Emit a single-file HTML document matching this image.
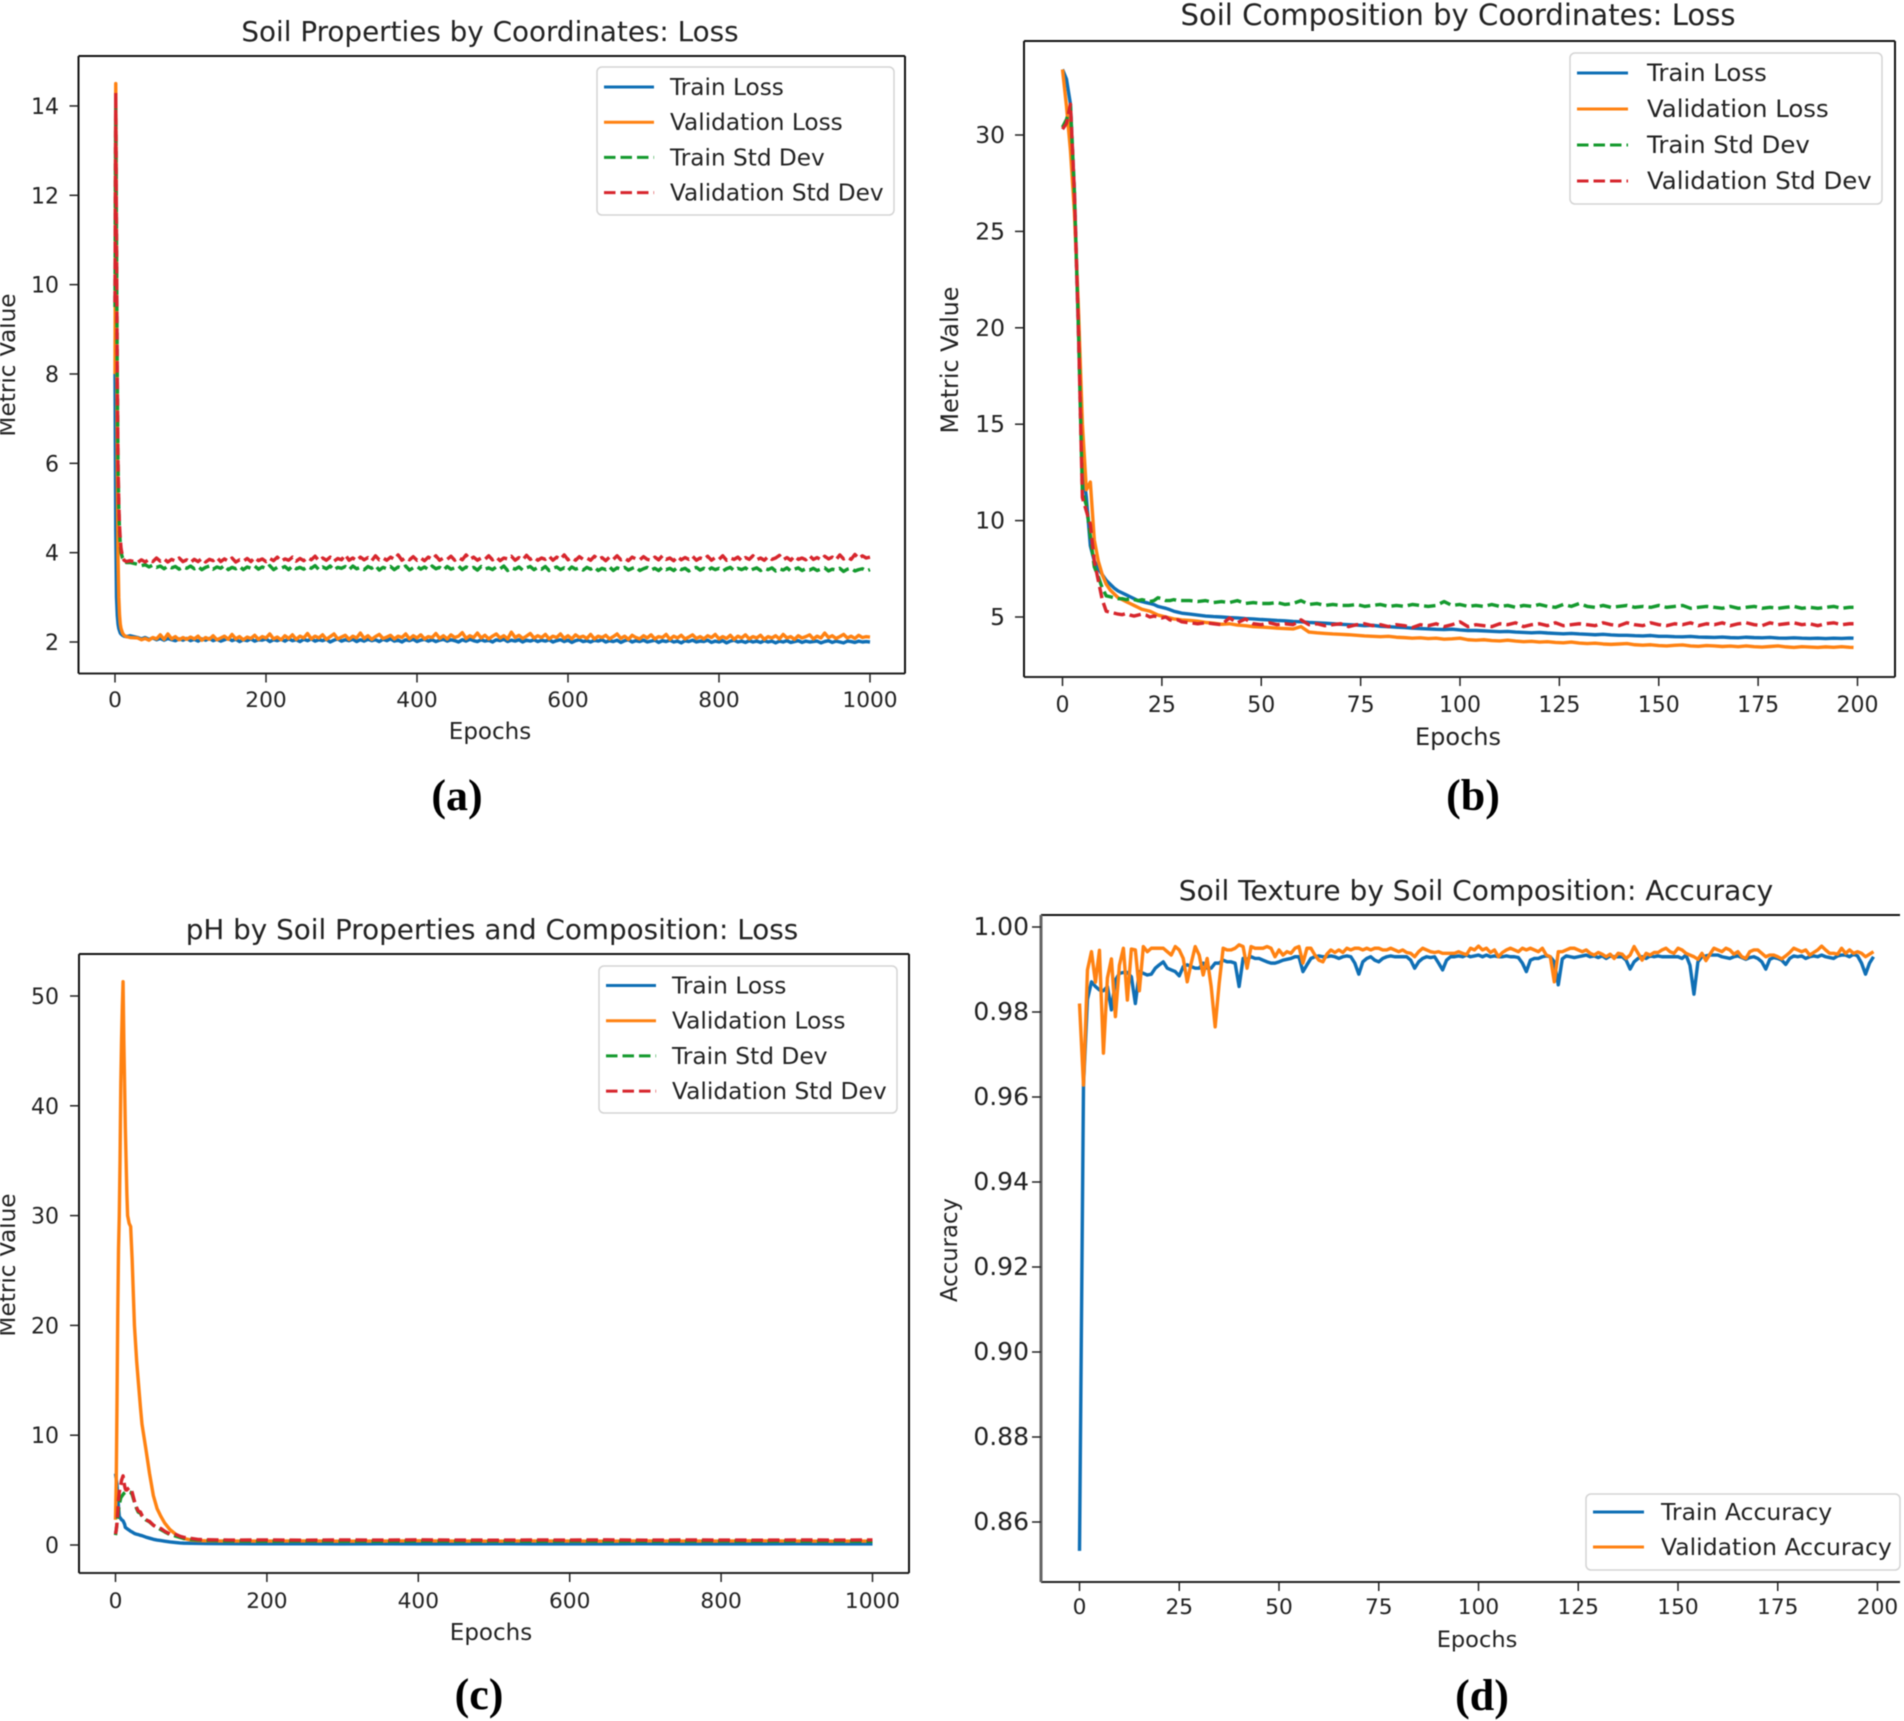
<!DOCTYPE html>
<html lang="en">
<head>
<meta charset="utf-8">
<title>Soil model training curves</title>
<style>
html,body{margin:0;padding:0;background:#fff;}
#root{display:block;width:1904px;height:1721px;filter:blur(0.45px);}
text{font-family:"DejaVu Sans","Liberation Sans",sans-serif;fill:#222;}
.cap{font-family:"Liberation Serif",serif;font-weight:bold;font-size:44px;fill:#000;}
</style>
</head>
<body>
<svg id="root" xmlns="http://www.w3.org/2000/svg" width="1904" height="1721" viewBox="0 0 1904 1721">
  <rect x="0" y="0" width="1904" height="1721" fill="#fff"/>
  <g id="panel-a">
    <text style="font-size:27.8px" x="490" y="41" text-anchor="middle">Soil Properties by Coordinates: Loss</text>
    <text style="font-size:23px" x="490" y="739" text-anchor="middle">Epochs</text>
    <text style="font-size:23.2px" transform="translate(15,365) rotate(-90)" text-anchor="middle">Metric Value</text>
    <text class="cap" x="457" y="810" text-anchor="middle">(a)</text>
  </g>
  <g id="panel-b">
    <text style="font-size:29.1px" x="1458" y="25" text-anchor="middle">Soil Composition by Coordinates: Loss</text>
    <text style="font-size:24px" x="1458" y="745" text-anchor="middle">Epochs</text>
    <text style="font-size:23.8px" transform="translate(958,360) rotate(-90)" text-anchor="middle">Metric Value</text>
    <text class="cap" x="1473" y="810" text-anchor="middle">(b)</text>
  </g>
  <g id="panel-c">
    <text style="font-size:27.8px" x="492" y="939" text-anchor="middle">pH by Soil Properties and Composition: Loss</text>
    <text style="font-size:23px" x="491" y="1640" text-anchor="middle">Epochs</text>
    <text style="font-size:23.2px" transform="translate(15,1265) rotate(-90)" text-anchor="middle">Metric Value</text>
    <text class="cap" x="479" y="1709" text-anchor="middle">(c)</text>
  </g>
  <g id="panel-d">
    <text style="font-size:28px" x="1476" y="900" text-anchor="middle">Soil Texture by Soil Composition: Accuracy</text>
    <text style="font-size:22.5px" x="1477" y="1647" text-anchor="middle">Epochs</text>
    <text style="font-size:22.8px" transform="translate(957,1250) rotate(-90)" text-anchor="middle">Accuracy</text>
    <text class="cap" x="1482" y="1710" text-anchor="middle">(d)</text>
  </g>
</svg>
<script>
/* ---------- Panel (a) ---------- */
const aEpochs = [0,1,2,3,4,5,6,7,8,10,12,15,20,
30,35,40,45,50,55,60,65,70,75,80,85,90,95,100,
105,110,115,120,125,130,135,140,145,150,155,160,165,170,175,
180,185,190,195,200,205,210,215,220,225,230,235,240,245,250,
255,260,265,270,275,280,285,290,295,300,305,310,315,320,325,
330,335,340,345,350,355,360,365,370,375,380,385,390,395,400,
405,410,415,420,425,430,435,440,445,450,455,460,465,470,475,
480,485,490,495,500,505,510,515,520,525,530,535,540,545,550,
555,560,565,570,575,580,585,590,595,600,605,610,615,620,625,
630,635,640,645,650,655,660,665,670,675,680,685,690,695,700,
705,710,715,720,725,730,735,740,745,750,755,760,765,770,775,
780,785,790,795,800,805,810,815,820,825,830,835,840,845,850,
855,860,865,870,875,880,885,890,895,900,905,910,915,920,925,
930,935,940,945,950,955,960,965,970,975,980,985,990,995,1000];
const aTrainLoss = [8,4.5,3,2.6,2.4,2.3,2.25,2.2,2.18,2.15,2.13,2.12,2.14,
2.1,2.07,2.1,2.06,2.09,2.05,2.08,2.04,2.08,2.05,2.03,2.07,2.04,2.08,2.03,
2.06,2.02,2.07,2.04,2.08,2.03,2.06,2.02,2.05,2.08,2.03,2.06,2.01,2.05,2.03,
2.07,2.02,2.05,2.04,2.07,2.01,2.05,2.03,2.06,2.02,2.07,2.03,2.05,2.01,2.06,
2.03,2.07,2.02,2.05,2.03,2.06,2,2.04,2.07,2.02,2.05,2.03,2.06,2.01,2.05,
2.02,2.06,2.03,2.05,2.01,2.06,2.03,2.07,2.02,2.04,2,2.05,2.03,2.06,2.01,
2.04,2.06,2.02,2.05,2.01,2.04,2.06,2.02,2.05,2.03,2,2.05,2.02,2.06,2.03,
2.01,2.05,2.02,2.04,2,2.05,2.03,2.06,2.01,2.04,2.02,2.05,2,2.04,2.02,
2.05,2.01,2.04,2.02,2.05,2,2.03,2.05,2.01,2.04,1.99,2.03,2.05,2.01,2.03,
2,2.04,2.02,2.05,2,2.03,2.01,2.04,1.99,2.03,2.05,2,2.03,2.01,2.04,
2,2.02,2.04,1.99,2.03,2.01,2.04,2,2.02,1.98,2.03,2.01,2.04,2,2.02,
2.01,2.04,1.99,2.02,2,2.03,1.98,2.02,2.04,2,2.02,1.99,2.03,2,2.02,
1.99,2.03,2,2.02,1.98,2.02,2,2.03,1.99,2.01,2.03,1.99,2.02,2,2.01,
2.02,1.98,2.01,2.03,1.99,2.02,2,1.98,2.02,2.01,1.99,2.02,2,2.01,2];
const aValLoss = [8,14.5,10,6,3.9,3,2.6,2.4,2.3,2.2,2.15,2.12,2.1,
2.09,2.05,2.08,2.04,2.1,2.07,2.16,2.06,2.18,2.07,2.12,2.05,2.1,2.06,2.11,
2.07,2.13,2.04,2.1,2.06,2.14,2.05,2.09,2.13,2.06,2.17,2.07,2.12,2.05,2.11,
2.08,2.15,2.06,2.12,2.09,2.18,2.07,2.11,2.05,2.14,2.08,2.16,2.06,2.13,2.09,
2.19,2.07,2.13,2.09,2.16,2.06,2.12,2.18,2.07,2.11,2.15,2.06,2.13,2.09,2.2,
2.08,2.14,2.06,2.12,2.17,2.08,2.11,2.15,2.07,2.13,2.1,2.18,2.07,2.14,2.09,
2.16,2.07,2.12,2.1,2.19,2.08,2.14,2.07,2.16,2.1,2.13,2.21,2.08,2.14,2.1,
2.2,2.09,2.15,2.07,2.13,2.18,2.09,2.14,2.07,2.22,2.1,2.15,2.08,2.13,2.19,
2.09,2.14,2.1,2.17,2.07,2.13,2.1,2.18,2.08,2.14,2.07,2.16,2.1,2.13,2.08,
2.17,2.07,2.13,2.1,2.15,2.07,2.12,2.18,2.08,2.13,2.06,2.15,2.1,2.07,2.14,
2.09,2.16,2.07,2.12,2.1,2.17,2.06,2.13,2.09,2.15,2.07,2.11,2.16,2.08,2.12,
2.07,2.14,2.1,2.17,2.07,2.12,2.08,2.15,2.06,2.13,2.09,2.16,2.07,2.12,2.09,
2.15,2.06,2.12,2.09,2.14,2.07,2.17,2.09,2.12,2.06,2.14,2.09,2.12,2.16,2.07,
2.13,2.09,2.2,2.1,2.14,2.08,2.12,2.17,2.09,2.13,2.08,2.15,2.1,2.12,2.11];
const aTrainStd = [9.5,14.2,11,8,6,5,4.5,4.2,4,3.88,3.82,3.78,3.78,
3.74,3.71,3.73,3.68,3.72,3.67,3.7,3.64,3.7,3.66,3.69,3.63,3.68,3.65,3.7,
3.64,3.69,3.62,3.67,3.7,3.63,3.68,3.65,3.71,3.62,3.67,3.64,3.69,3.62,3.68,
3.65,3.7,3.63,3.68,3.64,3.71,3.62,3.67,3.65,3.69,3.62,3.7,3.64,3.67,3.63,
3.69,3.65,3.71,3.62,3.68,3.64,3.7,3.61,3.67,3.65,3.69,3.62,3.7,3.64,3.67,
3.62,3.69,3.65,3.71,3.61,3.67,3.64,3.69,3.62,3.68,3.65,3.7,3.61,3.66,3.69,
3.63,3.68,3.62,3.7,3.64,3.67,3.61,3.69,3.63,3.66,3.7,3.62,3.68,3.64,3.67,
3.61,3.69,3.63,3.66,3.62,3.68,3.64,3.7,3.6,3.66,3.63,3.68,3.61,3.66,3.69,
3.62,3.67,3.63,3.69,3.6,3.65,3.68,3.62,3.66,3.6,3.68,3.63,3.66,3.61,3.67,
3.63,3.68,3.6,3.65,3.62,3.68,3.6,3.66,3.63,3.67,3.61,3.65,3.68,3.6,3.64,
3.67,3.61,3.65,3.6,3.67,3.62,3.65,3.6,3.67,3.62,3.65,3.59,3.64,3.67,3.61,
3.65,3.6,3.66,3.62,3.65,3.59,3.64,3.67,3.6,3.65,3.62,3.66,3.59,3.63,3.66,
3.6,3.65,3.62,3.66,3.59,3.64,3.61,3.66,3.59,3.63,3.66,3.6,3.64,3.61,3.65,
3.6,3.63,3.66,3.59,3.63,3.61,3.65,3.58,3.63,3.65,3.59,3.62,3.64,3.59,3.62];
const aValStd = [9.6,14.3,11,8,6,5.1,4.6,4.3,4.1,3.9,3.83,3.8,3.82,
3.78,3.84,3.79,3.85,3.8,3.88,3.81,3.86,3.79,3.85,3.81,3.88,3.8,3.84,3.78,
3.85,3.8,3.87,3.79,3.85,3.82,3.89,3.8,3.86,3.81,3.88,3.79,3.84,3.81,3.87,
3.8,3.89,3.82,3.86,3.8,3.87,3.82,3.9,3.81,3.86,3.83,3.9,3.81,3.87,3.82,
3.89,3.84,3.92,3.82,3.88,3.83,3.9,3.81,3.87,3.84,3.95,3.83,3.88,3.82,3.9,
3.84,3.89,3.82,3.93,3.84,3.88,3.83,3.9,3.85,3.95,3.83,3.89,3.84,3.91,3.83,
3.88,3.82,3.9,3.85,3.93,3.83,3.88,3.85,3.92,3.83,3.89,3.84,3.95,3.85,3.9,
3.83,3.88,3.85,3.93,3.84,3.9,3.82,3.88,3.86,3.92,3.83,3.89,3.84,3.94,3.85,
3.9,3.83,3.88,3.85,3.92,3.83,3.9,3.85,3.95,3.84,3.89,3.83,3.91,3.85,3.88,
3.83,3.92,3.85,3.89,3.82,3.9,3.85,3.93,3.84,3.88,3.82,3.9,3.86,3.84,3.91,
3.85,3.83,3.9,3.84,3.93,3.85,3.88,3.82,3.91,3.84,3.89,3.85,3.92,3.83,3.88,
3.85,3.92,3.83,3.89,3.85,3.93,3.83,3.88,3.85,3.9,3.82,3.89,3.85,3.93,3.84,
3.88,3.83,3.91,3.85,3.88,3.94,3.84,3.89,3.83,3.92,3.85,3.88,3.84,3.93,3.85,
3.89,3.84,3.92,3.86,3.9,3.84,3.95,3.86,3.9,3.85,3.96,3.87,3.93,3.88,3.9];
const aXTicks = [0,200,400,600,800,1000];
const aYTicks = [2,4,6,8,10,12,14];

/* ---------- Panel (b) ---------- */
const bEpochs = [0,1,2,3,4,5,6,7,8,9,10,11,12,13,14,15,16,17,18,19,20,21,22,23,24,25,26,27,28,29,30,
32,34,36,38,40,42,44,46,48,50,52,54,56,58,60,62,64,66,68,70,72,74,76,78,80,82,84,86,88,90,92,94,96,98,100,102,104,106,108,110,112,114,116,118,120,122,124,126,128,130,132,134,136,138,140,142,144,146,148,150,152,154,156,158,160,162,164,166,168,170,172,174,176,178,180,182,184,186,188,190,192,194,196,198,199];
const bTrainLoss = [33.4,32.9,31.6,27,20,13,11.2,8.7,7.9,7.5,7.2,6.9,6.7,6.5,6.35,6.25,6.15,6.05,5.95,5.85,5.8,5.75,5.7,5.65,5.55,5.5,5.45,5.38,5.3,5.25,5.2,
5.15,5.1,5.05,5.02,5,4.97,4.95,4.92,4.9,4.87,
4.85,4.82,4.8,4.77,4.75,4.72,4.7,4.68,4.65,4.62,
4.6,4.58,4.55,4.57,4.52,4.5,4.47,4.45,4.42,4.4,
4.38,4.36,4.35,4.37,4.33,4.3,4.3,4.28,4.26,4.24,
4.25,4.22,4.2,4.18,4.2,4.17,4.15,4.13,4.15,4.12,
4.1,4.08,4.1,4.07,4.05,4.05,4.03,4.02,4.04,4,
4,3.98,3.97,3.99,3.96,3.95,3.94,3.96,3.93,3.92,
3.95,3.93,3.92,3.94,3.91,3.9,3.92,3.9,3.89,3.9,
3.88,3.9,3.89,3.91,3.9];
const bValLoss = [33.4,31.5,29.2,26,21,15,11.6,12,9,7.9,7.2,6.7,6.4,6.2,6,5.9,5.8,5.7,5.6,5.5,5.4,5.35,5.3,5.2,5.1,5.05,5,4.95,4.9,4.88,4.85,
4.82,4.78,4.72,4.68,4.62,4.65,4.58,4.55,4.5,4.48,
4.45,4.42,4.4,4.38,4.5,4.22,4.18,4.15,4.12,4.1,
4.08,4.05,4.02,4,3.98,4,3.95,3.93,3.9,3.92,
3.88,3.9,3.85,3.87,3.9,3.82,3.8,3.82,3.78,3.76,
3.8,3.75,3.72,3.74,3.7,3.72,3.68,3.66,3.7,3.65,
3.62,3.64,3.6,3.58,3.6,3.62,3.56,3.54,3.56,3.52,
3.5,3.53,3.55,3.5,3.48,3.52,3.5,3.47,3.49,3.46,
3.5,3.46,3.44,3.47,3.5,3.45,3.42,3.46,3.44,3.42,
3.45,3.43,3.46,3.43,3.42];
const bTrainStd = [30.4,30.8,31.5,27,20,11.5,10.8,9.2,7.6,7.1,6.5,6.1,6.05,6,5.95,5.95,5.9,5.95,5.9,5.85,5.9,5.85,5.8,5.85,6,5.95,5.85,5.85,5.9,5.85,5.85,
5.85,5.8,5.85,5.75,5.8,5.75,5.85,5.7,5.75,5.7,
5.7,5.75,5.65,5.7,5.85,5.65,5.7,5.6,5.65,5.6,
5.6,5.65,5.55,5.6,5.65,5.55,5.6,5.55,5.65,5.6,
5.55,5.6,5.8,5.6,5.65,5.55,5.6,5.55,5.65,5.55,
5.6,5.5,5.6,5.55,5.65,5.55,5.5,5.65,5.55,5.7,
5.55,5.5,5.6,5.5,5.55,5.6,5.5,5.55,5.5,5.6,
5.5,5.55,5.6,5.45,5.5,5.55,5.5,5.45,5.55,5.45,
5.5,5.55,5.45,5.5,5.45,5.5,5.55,5.45,5.5,5.45,
5.5,5.55,5.45,5.5,5.5];
const bValStd = [30.3,30.6,31.6,27,20,11.2,10.5,9.8,7.9,6.9,5.9,5.3,5.25,5.2,5.15,5.12,5.18,5.1,5.05,5.1,5.15,5.1,5,5.05,5,4.95,5,4.85,4.8,4.85,4.75,
4.7,4.65,4.7,4.65,4.6,4.95,4.7,4.9,4.65,4.6,
4.7,4.6,4.65,4.6,4.85,4.6,4.65,4.55,4.6,4.65,
4.5,4.6,4.65,4.55,4.6,4.5,4.6,4.55,4.45,4.6,
4.55,4.65,4.5,4.6,4.75,4.5,4.6,4.55,4.5,4.65,
4.6,4.7,4.5,4.6,4.65,4.55,4.7,4.55,4.6,4.65,
4.6,4.55,4.7,4.6,4.55,4.7,4.6,4.55,4.7,4.6,
4.55,4.65,4.6,4.7,4.55,4.65,4.6,4.7,4.55,4.65,
4.7,4.6,4.55,4.7,4.6,4.65,4.7,4.6,4.65,4.55,
4.65,4.7,4.6,4.65,4.65];
const bXTicks = [0,25,50,75,100,125,150,175,200];
const bYTicks = [5,10,15,20,25,30];

/* ---------- Panel (c) ---------- */
const cEpochs = [0,1,2,3,4,5,6,7,8,9,10,11,12,13,14,15,16,18,20,22,25,28,30,33,35,40,45,50,55,60,65,72,80,85,90,100,110,120,150,
200,250,300,350,400,450,500,550,600,650,700,750,800,850,900,950,1000];
const cTrainLoss = [6.5,6,5.5,4.5,3.4,2.6,2.5,2.4,2.3,2.25,2.2,2.05,1.9,1.6,1.55,1.5,1.45,1.35,1.25,1.18,1.05,0.98,0.95,0.88,0.85,0.72,0.62,0.52,0.45,0.4,0.35,0.28,0.22,0.19,0.17,0.15,0.14,0.13,0.12,
0.11,0.11,0.1,0.11,0.1,0.1,0.11,0.1,0.1,0.1,0.11,0.1,0.1,0.1,0.11,0.1,0.1];
const cValLoss = [2.3,6,13,21,27,30,35,42,46,49,51.3,46,42,38,35,32,30,29.3,29,26,20,16.7,15,12.5,11,8.8,6.5,4.5,3.3,2.6,2,1.4,0.95,0.75,0.6,0.45,0.4,0.38,0.36,
0.36,0.37,0.35,0.36,0.38,0.36,0.35,0.37,0.36,0.35,0.37,0.36,0.36,0.38,0.36,0.35,0.36];
const cTrainStd = [0.9,1.4,2,2.6,3.2,3.6,4,4.3,4.4,4.5,4.6,4.7,4.75,4.8,4.8,4.8,4.8,4.85,4.8,4.6,3.9,3.3,3,2.9,2.6,2.3,2.1,1.8,1.6,1.4,1.2,0.95,0.8,0.7,0.6,0.5,0.45,0.42,0.36,
0.35,0.36,0.35,0.34,0.36,0.35,0.35,0.34,0.36,0.35,0.34,0.35,0.36,0.34,0.35,0.35,0.34];
const cValStd = [1,1.4,2,3,4.2,4.8,5.2,5.5,5.9,6.1,6.3,5.8,5.4,5.1,5,5,5.1,5.2,5.2,4.8,4,3.4,3.1,3,2.7,2.3,2.15,1.8,1.6,1.5,1.25,1,0.95,0.8,0.7,0.6,0.5,0.48,0.45,
0.46,0.44,0.46,0.45,0.47,0.45,0.44,0.46,0.45,0.47,0.44,0.46,0.45,0.44,0.46,0.45,0.46];
const cXTicks = [0,200,400,600,800,1000];
const cYTicks = [0,10,20,30,40,50];

/* ---------- Panel (d): one value per epoch, 0-199 ---------- */
const dTrainAcc = [
.8532,.9628,.9830,.9871,.9860,.9852,.9850,.9860,.9805,.9875,
.9891,.9893,.9893,.9883,.9820,.9895,.9891,.9887,.9889,.9903,
.9911,.9918,.9903,.9899,.9895,.9885,.9907,.9911,.9907,.9903,
.9903,.9915,.9903,.9903,.9915,.9915,.9922,.9918,.9918,.9915,
.9860,.9926,.9924,.9930,.9926,.9926,.9922,.9918,.9915,.9915,
.9918,.9922,.9924,.9926,.9930,.9930,.9895,.9911,.9926,.9930,
.9932,.9930,.9930,.9932,.9930,.9926,.9930,.9932,.9930,.9915,
.9889,.9918,.9926,.9930,.9922,.9918,.9926,.9930,.9932,.9930,
.9930,.9930,.9930,.9922,.9903,.9918,.9926,.9930,.9928,.9930,
.9915,.9899,.9922,.9930,.9930,.9932,.9930,.9934,.9930,.9932,
.9934,.9930,.9934,.9930,.9932,.9930,.9930,.9932,.9930,.9930,
.9928,.9915,.9895,.9922,.9926,.9926,.9930,.9932,.9930,.9918,
.9864,.9925,.9932,.9930,.9928,.9930,.9932,.9934,.9930,.9932,
.9928,.9932,.9926,.9932,.9930,.9930,.9930,.9922,.9901,.9918,
.9926,.9930,.9926,.9932,.9930,.9932,.9930,.9930,.9930,.9930,
.9930,.9926,.9934,.9910,.9842,.9918,.9930,.9932,.9934,.9934,
.9934,.9930,.9928,.9926,.9930,.9932,.9928,.9924,.9928,.9930,
.9926,.9918,.9901,.9924,.9928,.9926,.9922,.9912,.9926,.9932,
.9930,.9932,.9926,.9930,.9932,.9930,.9934,.9930,.9928,.9926,
.9932,.9934,.9934,.9930,.9936,.9932,.9915,.9889,.9915,.9930];
const dValAcc = [
.9820,.9628,.9899,.9942,.9870,.9945,.9703,.9880,.9925,.9789,
.9910,.9950,.9828,.9948,.9946,.9850,.9954,.9942,.9950,.9950,
.9950,.9950,.9942,.9934,.9954,.9946,.9926,.9871,.9915,.9954,
.9934,.9887,.9926,.9860,.9765,.9867,.9950,.9946,.9946,.9950,
.9958,.9954,.9903,.9954,.9950,.9950,.9950,.9954,.9950,.9930,
.9946,.9934,.9942,.9938,.9950,.9954,.9915,.9950,.9950,.9934,
.9922,.9918,.9936,.9946,.9940,.9946,.9940,.9950,.9946,.9950,
.9950,.9946,.9950,.9946,.9950,.9950,.9946,.9946,.9950,.9946,
.9942,.9946,.9940,.9938,.9930,.9942,.9950,.9946,.9942,.9940,
.9942,.9938,.9938,.9938,.9938,.9942,.9938,.9935,.9950,.9946,
.9955,.9946,.9950,.9940,.9946,.9930,.9940,.9946,.9950,.9946,
.9942,.9950,.9946,.9950,.9946,.9942,.9950,.9934,.9930,.9871,
.9942,.9942,.9946,.9950,.9950,.9946,.9942,.9946,.9938,.9934,
.9940,.9936,.9930,.9936,.9926,.9938,.9936,.9926,.9934,.9954,
.9938,.9922,.9938,.9934,.9940,.9940,.9946,.9950,.9942,.9938,
.9950,.9946,.9938,.9934,.9930,.9924,.9938,.9921,.9936,.9950,
.9946,.9942,.9950,.9946,.9936,.9942,.9930,.9926,.9942,.9946,
.9946,.9938,.9930,.9934,.9934,.9930,.9925,.9932,.9940,.9950,
.9946,.9942,.9946,.9934,.9940,.9946,.9955,.9946,.9938,.9938,
.9936,.9950,.9938,.9946,.9938,.9942,.9938,.9930,.9936,.9942];
const dXTicks = [0,25,50,75,100,125,150,175,200];
const dYTicks = [0.86,0.88,0.90,0.92,0.94,0.96,0.98,1.00];

/* ---------- Drawing ---------- */
const NS = 'http://www.w3.org/2000/svg';
const BLUE = '#0f6fb5', ORANGE = '#ff8212', GREEN = '#149a2e', RED = '#d7262d';

function make(parent, tag, attrs, name) {
  const el = document.createElementNS(NS, tag);
  for (const k in attrs) el.setAttribute(k, attrs[k]);
  
  
  parent.appendChild(el);
  return el;
}

function drawSeries(parent, xs, ys, sx, sy, color, dashed, name) {
  const pts = ys.map(function (v, i) { return sx(xs[i]).toFixed(2) + ',' + sy(v).toFixed(2); }).join(' ');
  const attrs = {points: pts, fill: 'none', stroke: color, 'stroke-width': 3.4, 'stroke-linejoin': 'round'};
  if (dashed) attrs['stroke-dasharray'] = '11.5 5';
  make(parent, 'polyline', attrs, name);
}

function drawAxes(parent, box, sx, sy, xTicks, yTicks, xLabelY, yLabelX, fmt, prefix, opt) {
  make(parent, 'line', {x1: box.l, y1: box.t, x2: box.r, y2: box.t, stroke: '#111', 'stroke-width': 2}, prefix + '-top-spine');
  make(parent, 'line', {x1: box.l, y1: box.b, x2: box.r, y2: box.b, stroke: '#222', 'stroke-width': 2}, prefix + '-bottom-spine');
  make(parent, 'line', {x1: box.l, y1: box.t, x2: box.l, y2: box.b, stroke: opt.spine, 'stroke-width': opt.spineWidth}, prefix + '-left-spine');
  if (opt.rightSpine) make(parent, 'line', {x1: box.r, y1: box.t, x2: box.r, y2: box.b, stroke: '#111', 'stroke-width': 2}, prefix + '-right-spine');
  xTicks.forEach(function (t) {
    make(parent, 'line', {x1: sx(t), y1: box.b, x2: sx(t), y2: box.b + 9, stroke: '#222', 'stroke-width': 1.5}, prefix + '-x-tick-' + t);
    const lab = make(parent, 'text', {x: sx(t), y: xLabelY, 'text-anchor': 'middle', style: 'font-size:' + opt.xSize + 'px'}, prefix + '-x-tick-label-' + t);
    lab.textContent = String(t);
  });
  yTicks.forEach(function (t) {
    make(parent, 'line', {x1: box.l - 9, y1: sy(t), x2: box.l, y2: sy(t), stroke: '#222', 'stroke-width': 1.5}, prefix + '-y-tick-' + t);
    const lab = make(parent, 'text', {x: yLabelX, y: sy(t) + opt.yOff, 'text-anchor': 'end', style: 'font-size:' + opt.ySize + 'px'}, prefix + '-y-tick-label-' + t);
    lab.textContent = fmt(t);
  });
}

function drawLegend(parent, box, entries, prefix) {
  const g = make(parent, 'g', {}, prefix + '-legend');
  make(g, 'rect', {x: box.x, y: box.y, width: box.w, height: box.h, rx: 5, ry: 5, fill: '#fff', 'fill-opacity': 0.9, stroke: '#d4d4d4', 'stroke-width': 1.5}, prefix + '-legend-box');
  entries.forEach(function (e, i) {
    const y = box.first + i * box.gap;
    const attrs = {x1: box.hx1, y1: y, x2: box.hx2, y2: y, stroke: e.color, 'stroke-width': 3};
    if (e.dashed) attrs['stroke-dasharray'] = '11.5 5';
    make(g, 'line', attrs, prefix + '-legend-handle-' + e.id);
    const t = make(g, 'text', {x: box.tx, y: y + 8, style: 'font-size:' + box.size + 'px'}, prefix + '-legend-entry-' + e.id);
    t.textContent = e.label;
  });
}

const lossEntries = [
  {id: 'train-loss', label: 'Train Loss', color: BLUE, dashed: false},
  {id: 'validation-loss', label: 'Validation Loss', color: ORANGE, dashed: false},
  {id: 'train-std-dev', label: 'Train Std Dev', color: GREEN, dashed: true},
  {id: 'validation-std-dev', label: 'Validation Std Dev', color: RED, dashed: true}
];
const plainFmt = function (t) { return String(t); };

/* Panel a */
(function () {
  const g = document.getElementById('panel-a');
  const sx = function (v) { return 115 + v * 0.755; };
  const sy = function (v) { return 642 - (v - 2) * 44.67; };
  drawSeries(g, aEpochs, aTrainLoss, sx, sy, BLUE, false, 'panel-a-train-loss-line');
  drawSeries(g, aEpochs, aValLoss, sx, sy, ORANGE, false, 'panel-a-validation-loss-line');
  drawSeries(g, aEpochs, aTrainStd, sx, sy, GREEN, true, 'panel-a-train-std-line');
  drawSeries(g, aEpochs, aValStd, sx, sy, RED, true, 'panel-a-validation-std-line');
  drawAxes(g, {l: 78.5, r: 905, t: 56, b: 673.5}, sx, sy, aXTicks, aYTicks, 707, 59, plainFmt, 'panel-a', {spine: '#111', spineWidth: 2, rightSpine: true, xSize: 21.7, ySize: 22, yOff: 8});
  drawLegend(g, {x: 597, y: 67, w: 297, h: 148, first: 87, gap: 35.2, hx1: 604, hx2: 654, tx: 670, size: 23.2}, lossEntries, 'panel-a');
})();

/* Panel b */
(function () {
  const g = document.getElementById('panel-b');
  const sx = function (v) { return 1062.5 + v * 3.975; };
  const sy = function (v) { return 617 - (v - 5) * 19.28; };
  drawSeries(g, bEpochs, bTrainLoss, sx, sy, BLUE, false, 'panel-b-train-loss-line');
  drawSeries(g, bEpochs, bValLoss, sx, sy, ORANGE, false, 'panel-b-validation-loss-line');
  drawSeries(g, bEpochs, bTrainStd, sx, sy, GREEN, true, 'panel-b-train-std-line');
  drawSeries(g, bEpochs, bValStd, sx, sy, RED, true, 'panel-b-validation-std-line');
  drawAxes(g, {l: 1024, r: 1895, t: 41, b: 677}, sx, sy, bXTicks, bYTicks, 712, 1005, plainFmt, 'panel-b', {spine: '#111', spineWidth: 2, rightSpine: true, xSize: 22, ySize: 23.4, yOff: 8});
  drawLegend(g, {x: 1570, y: 53, w: 312, h: 151, first: 73, gap: 36, hx1: 1577, hx2: 1628, tx: 1647, size: 24.4}, lossEntries, 'panel-b');
})();

/* Panel c */
(function () {
  const g = document.getElementById('panel-c');
  const sx = function (v) { return 115.5 + v * 0.757; };
  const sy = function (v) { return 1545 - v * 10.98; };
  drawSeries(g, cEpochs, cTrainLoss, sx, sy, BLUE, false, 'panel-c-train-loss-line');
  drawSeries(g, cEpochs, cValLoss, sx, sy, ORANGE, false, 'panel-c-validation-loss-line');
  drawSeries(g, cEpochs, cTrainStd, sx, sy, GREEN, true, 'panel-c-train-std-line');
  drawSeries(g, cEpochs, cValStd, sx, sy, RED, true, 'panel-c-validation-std-line');
  drawAxes(g, {l: 79, r: 909, t: 954, b: 1573}, sx, sy, cXTicks, cYTicks, 1608, 59, plainFmt, 'panel-c', {spine: '#111', spineWidth: 2, rightSpine: true, xSize: 21.7, ySize: 22, yOff: 8});
  drawLegend(g, {x: 599, y: 966, w: 298, h: 147, first: 985.5, gap: 35.2, hx1: 606, hx2: 656, tx: 672, size: 23.3}, lossEntries, 'panel-c');
})();

/* Panel d */
(function () {
  const g = document.getElementById('panel-d');
  const dEpochs = dTrainAcc.map(function (_, i) { return i; });
  const sx = function (v) { return 1079.5 + v * 3.99; };
  const sy = function (v) { return 927 + (1 - v) * 4250; };
  drawSeries(g, dEpochs, dTrainAcc, sx, sy, BLUE, false, 'panel-d-train-accuracy-line');
  drawSeries(g, dEpochs, dValAcc, sx, sy, ORANGE, false, 'panel-d-validation-accuracy-line');
  drawAxes(g, {l: 1041, r: 1900, t: 915, b: 1582}, sx, sy, dXTicks, dYTicks, 1614, 1029, function (t) { return t.toFixed(2); }, 'panel-d', {spine: '#666', spineWidth: 3, rightSpine: false, xSize: 21.7, ySize: 25, yOff: 8});
  drawLegend(g, {x: 1586, y: 1494, w: 314, h: 76, first: 1512, gap: 35, hx1: 1593, hx2: 1644, tx: 1661, size: 23.5}, [
    {id: 'train-accuracy', label: 'Train Accuracy', color: BLUE, dashed: false},
    {id: 'validation-accuracy', label: 'Validation Accuracy', color: ORANGE, dashed: false}
  ], 'panel-d');
})();
</script>
</body>
</html>
